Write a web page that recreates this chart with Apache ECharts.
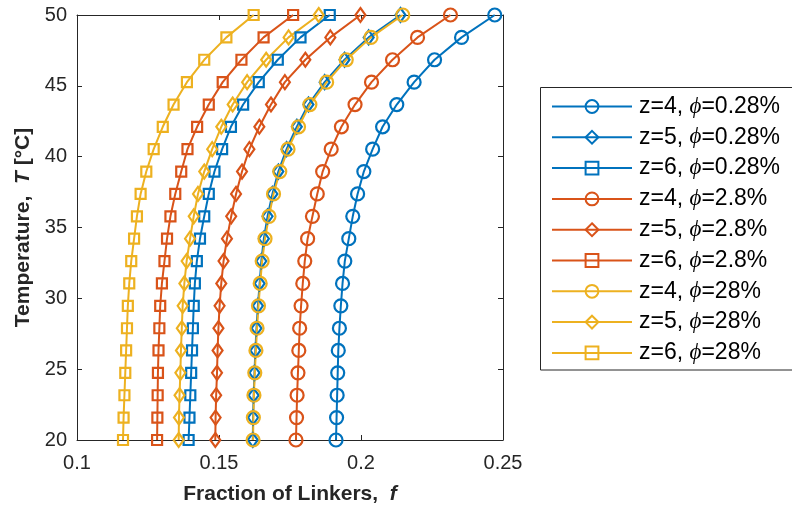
<!DOCTYPE html>
<html>
<head>
<meta charset="utf-8">
<script src="https://cdn.jsdelivr.net/npm/echarts@6/dist/echarts.min.js"></script>
<style>
html,body{margin:0;padding:0;background:#fff;}
#chart{width:792px;height:512px;}
</style>
</head>
<body>
<div id="chart"></div>
<script>
// Temperature values (y axis), °C
const temperature = [20.00, 21.58, 23.16, 24.74, 26.32, 27.89, 29.47, 31.05, 32.63, 34.21,
                     35.79, 37.37, 38.95, 40.53, 42.11, 43.68, 45.26, 46.84, 48.42, 50.00];

// Fraction of linkers f for each series
const f_z4_phi028 = [0.1912,0.1914,0.1916,0.1918,0.1920,0.1924,0.1929,0.1935,0.1943,0.1957,0.1971,0.1988,0.2010,0.2041,0.2076,0.2126,0.2187,0.2259,0.2354,0.2471];
const f_z5_phi028 = [0.1619,0.1620,0.1622,0.1625,0.1628,0.1632,0.1637,0.1643,0.1649,0.1658,0.1671,0.1688,0.1709,0.1738,0.1774,0.1815,0.1872,0.1942,0.2027,0.2139];
const f_z6_phi028 = [0.1393,0.1396,0.1399,0.1402,0.1405,0.1408,0.1411,0.1415,0.1422,0.1433,0.1448,0.1464,0.1484,0.1511,0.1542,0.1585,0.1640,0.1707,0.1787,0.1890];
const f_z4_phi28  = [0.1771,0.1773,0.1775,0.1778,0.1781,0.1784,0.1789,0.1795,0.1802,0.1812,0.1829,0.1846,0.1865,0.1895,0.1931,0.1979,0.2037,0.2111,0.2199,0.2315];
const f_z5_phi28  = [0.1487,0.1488,0.1490,0.1493,0.1495,0.1498,0.1502,0.1508,0.1516,0.1528,0.1543,0.1560,0.1581,0.1607,0.1642,0.1683,0.1732,0.1804,0.1892,0.1998];
const f_z6_phi28  = [0.1282,0.1283,0.1284,0.1285,0.1287,0.1290,0.1293,0.1299,0.1308,0.1317,0.1329,0.1346,0.1367,0.1389,0.1423,0.1464,0.1513,0.1579,0.1657,0.1761];
const f_z4_phi280 = [0.1620,0.1621,0.1623,0.1626,0.1630,0.1634,0.1639,0.1645,0.1652,0.1662,0.1676,0.1692,0.1714,0.1743,0.1780,0.1820,0.1879,0.1948,0.2035,0.2147];
const f_z5_phi280 = [0.1358,0.1359,0.1361,0.1364,0.1366,0.1369,0.1372,0.1378,0.1386,0.1398,0.1411,0.1426,0.1448,0.1476,0.1508,0.1548,0.1599,0.1666,0.1745,0.1851];
const f_z6_phi280 = [0.1162,0.1164,0.1167,0.1170,0.1173,0.1176,0.1179,0.1184,0.1191,0.1201,0.1211,0.1224,0.1244,0.1270,0.1302,0.1340,0.1387,0.1448,0.1526,0.1622];

const seriesNames = ['z=4, ϕ=0.28%','z=5, ϕ=0.28%','z=6, ϕ=0.28%',
                     'z=4, ϕ=2.8%','z=5, ϕ=2.8%','z=6, ϕ=2.8%',
                     'z=4, ϕ=28%','z=5, ϕ=28%','z=6, ϕ=28%'];
const seriesValues = [f_z4_phi028, f_z5_phi028, f_z6_phi028,
                      f_z4_phi28, f_z5_phi28, f_z6_phi28,
                      f_z4_phi280, f_z5_phi280, f_z6_phi280];
const xTicks = [0.1, 0.15, 0.2, 0.25];
const yTicks = [20, 25, 30, 35, 40, 45, 50];

const colors = ['#0072BD','#0072BD','#0072BD','#D95319','#D95319','#D95319','#EDB120','#EDB120','#EDB120'];
const symbols = ['circle','diamond','rect','circle','diamond','rect','circle','diamond','rect'];
const symbolSizes = [13,[10,14],10,13,[10,14],10,13,[10,14],10];

const axisColor = '#262626';
const font = '"Liberation Sans", Arial, Helvetica, sans-serif';

const series = seriesValues.map((vals, k) => ({
  name: seriesNames[k],
  type: 'line',
  clip: false,
  data: vals.map((v, i) => [v, temperature[i]]),
  symbol: symbols[k],
  symbolSize: symbolSizes[k],
  showAllSymbol: true,
  lineStyle: { color: colors[k], width: 2 },
  itemStyle: { color: 'rgba(255,255,255,0)', borderColor: colors[k], borderWidth: 2.2 },
  emphasis: { disabled: true },
  animation: false
}));

const chart = echarts.init(document.getElementById('chart'), null, { renderer: 'canvas' });

const axisCommon = {
  type: 'value',
  axisLine: { show: true, lineStyle: { color: axisColor, width: 1 } },
  axisTick: { show: true, inside: true, length: 5, lineStyle: { color: axisColor, width: 1 } },
  splitLine: { show: false },
  minorTick: { show: false }
};

chart.setOption({
  backgroundColor: '#ffffff',
  animation: false,
  grid: { left: 77, right: 289, top: 15, bottom: 72, containLabel: false },
  xAxis: [
    Object.assign({}, axisCommon, {
      position: 'bottom',
      min: xTicks[0], max: xTicks[xTicks.length - 1], interval: 0.05,
      axisLabel: {
        show: true, margin: 13, color: axisColor, fontSize: 20, fontFamily: font,
        formatter: v => String(+v.toFixed(2))
      },
      name: 'Fraction of Linkers,  {i|f}',
      nameLocation: 'middle',
      nameGap: 44,
      nameTextStyle: {
        color: axisColor, fontSize: 21, fontWeight: 'bold', fontFamily: font,
        rich: { i: { fontSize: 21, fontWeight: 'bold', fontStyle: 'italic', fontFamily: font, color: axisColor } }
      }
    }),
    Object.assign({}, axisCommon, {
      position: 'top',
      min: xTicks[0], max: xTicks[xTicks.length - 1], interval: 0.05,
      axisLabel: { show: false }
    })
  ],
  yAxis: [
    Object.assign({}, axisCommon, {
      position: 'left',
      min: yTicks[0], max: yTicks[yTicks.length - 1], interval: 5,
      axisLabel: { show: true, margin: 10, color: axisColor, fontSize: 20, fontFamily: font },
      name: 'Temperature,  {i|T} [°C]',
      nameLocation: 'middle',
      nameGap: 42,
      nameTextStyle: {
        color: axisColor, fontSize: 21, fontWeight: 'bold', fontFamily: font,
        rich: { i: { fontSize: 21, fontWeight: 'bold', fontStyle: 'italic', fontFamily: font, color: axisColor } }
      }
    }),
    Object.assign({}, axisCommon, {
      position: 'right',
      min: yTicks[0], max: yTicks[yTicks.length - 1], interval: 5,
      axisLabel: { show: false }
    })
  ],
  legend: {
    show: true,
    orient: 'vertical',
    left: 540,
    top: 87,
    padding: [8, 10, 8, 11],
    itemWidth: 80,
    itemHeight: 16,
    itemGap: 7.8,
    selectedMode: false,
    data: seriesNames,
    formatter: name => name.replace('ϕ', '{p|ϕ}'),
    textStyle: {
      color: '#000', fontSize: 23, fontFamily: font, lineHeight: 22, padding: [0,0,0,2],
      rich: {
        p: { fontSize: 23, fontStyle: 'italic', fontFamily: '"Liberation Serif", "DejaVu Serif", serif', color: '#000', lineHeight: 22 }
      }
    }
  },
  graphic: [
    {
      type: 'rect',
      silent: true,
      shape: { x: 540.5, y: 87.5, width: 300, height: 282.5 },
      style: { fill: 'none', stroke: axisColor, lineWidth: 1 }
    }
  ],
  series: series
});
</script>
</body>
</html>
